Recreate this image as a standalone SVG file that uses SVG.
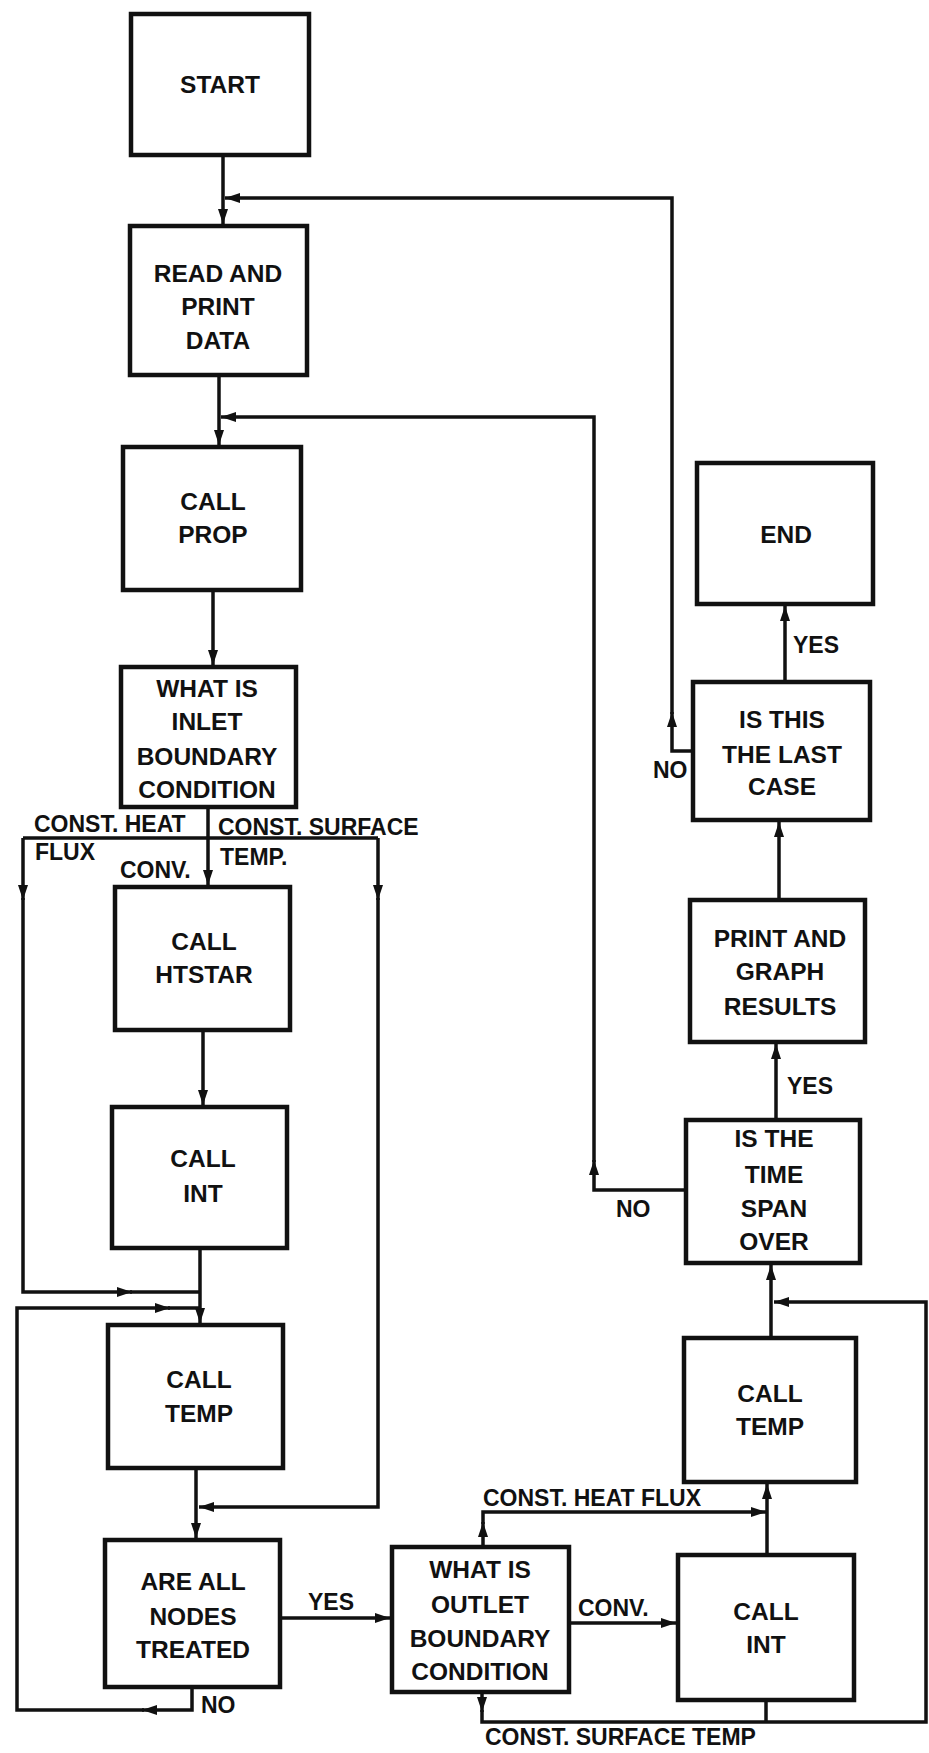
<svg xmlns="http://www.w3.org/2000/svg" width="929" height="1753" viewBox="0 0 929 1753">
<style>
.box{fill:#fff;stroke:#111;stroke-width:4.5}
.t{font-family:"Liberation Sans",Arial,sans-serif;font-weight:bold;font-size:24.5px;text-anchor:middle;fill:#111}
.l{font-family:"Liberation Sans",Arial,sans-serif;font-weight:bold;font-size:23px;fill:#111}
.c{fill:none;stroke:#111;stroke-width:3.5;stroke-linejoin:miter}
.a{marker-end:url(#ah)}
</style>
<defs>
<marker id="ah" markerUnits="userSpaceOnUse" markerWidth="16" markerHeight="12" refX="15" refY="5.5" orient="auto">
<path d="M0,0.5 L15,5.5 L0,10.5 z" fill="#111"/>
</marker>
</defs>
<rect width="929" height="1753" fill="#fff"/>
<g id="connectors">
<path class="c a" d="M223,155 V224"/>
<path class="c a" d="M693,751 H672 V712"/>
<path class="c a" d="M672,714 V198 H225"/>
<path class="c a" d="M219,375 V445"/>
<path class="c a" d="M686,1190 H594 V1160"/>
<path class="c a" d="M594,1162 V417 H221"/>
<path class="c a" d="M213,590 V665"/>
<path class="c a" d="M208,807 V885"/>
<path class="c" d="M23,838 H378"/>
<path class="c a" d="M23,838 V900"/>
<path class="c a" d="M23,898 V1292 H132"/>
<path class="c" d="M130,1292 H200"/>
<path class="c a" d="M378,838 V900"/>
<path class="c a" d="M378,898 V1507 H199"/>
<path class="c a" d="M203,1030 V1105"/>
<path class="c a" d="M200,1248 V1323"/>
<path class="c a" d="M196,1468 V1538"/>
<path class="c a" d="M192,1687 V1710 H142"/>
<path class="c a" d="M144,1710 H17 V1308 H170"/>
<path class="c" d="M168,1308 H200"/>
<path class="c a" d="M280,1618 H390"/>
<path class="c a" d="M569,1623 H676"/>
<path class="c a" d="M483,1547 V1522"/>
<path class="c a" d="M483,1524 V1512 H766"/>
<path class="c a" d="M767,1555 V1484"/>
<path class="c a" d="M771,1338 V1265"/>
<path class="c a" d="M482,1692 V1712"/>
<path class="c a" d="M482,1710 V1722 H926 V1302 H774"/>
<path class="c" d="M766,1700 V1722"/>
<path class="c a" d="M776,1120 V1044"/>
<path class="c a" d="M779,900 V822"/>
<path class="c a" d="M785,682 V606"/>
</g>
<g id="labels">
<text class="l" x="34" y="832">CONST. HEAT</text>
<text class="l" x="35" y="860">FLUX</text>
<text class="l" x="218" y="835">CONST. SURFACE</text>
<text class="l" x="220" y="865">TEMP.</text>
<text class="l" x="120" y="878">CONV.</text>
<text class="l" x="793" y="653">YES</text>
<text class="l" x="653" y="778">NO</text>
<text class="l" x="787" y="1094">YES</text>
<text class="l" x="616" y="1217">NO</text>
<text class="l" x="308" y="1610">YES</text>
<text class="l" x="201" y="1713">NO</text>
<text class="l" x="578" y="1616">CONV.</text>
<text class="l" x="483" y="1506">CONST. HEAT FLUX</text>
<text class="l" x="485" y="1745">CONST. SURFACE TEMP</text>
</g>
<g id="start"><rect class="box" x="131" y="14" width="178" height="141"/><text class="t" x="220" y="93">START</text></g>
<g id="read"><rect class="box" x="130" y="226" width="177" height="149"/><text class="t" x="218" y="282">READ AND</text><text class="t" x="218" y="315">PRINT</text><text class="t" x="218" y="349">DATA</text></g>
<g id="prop"><rect class="box" x="123" y="447" width="178" height="143"/><text class="t" x="213" y="510">CALL</text><text class="t" x="213" y="543">PROP</text></g>
<g id="inlet"><rect class="box" x="121" y="667" width="175" height="140"/><text class="t" x="207" y="697">WHAT IS</text><text class="t" x="207" y="730">INLET</text><text class="t" x="207" y="765">BOUNDARY</text><text class="t" x="207" y="798">CONDITION</text></g>
<g id="htstar"><rect class="box" x="115" y="887" width="175" height="143"/><text class="t" x="204" y="950">CALL</text><text class="t" x="204" y="983">HTSTAR</text></g>
<g id="int1"><rect class="box" x="112" y="1107" width="175" height="141"/><text class="t" x="203" y="1167">CALL</text><text class="t" x="203" y="1202">INT</text></g>
<g id="temp1"><rect class="box" x="108" y="1325" width="175" height="143"/><text class="t" x="199" y="1388">CALL</text><text class="t" x="199" y="1422">TEMP</text></g>
<g id="nodes"><rect class="box" x="105" y="1540" width="175" height="147"/><text class="t" x="193" y="1590">ARE ALL</text><text class="t" x="193" y="1625">NODES</text><text class="t" x="193" y="1658">TREATED</text></g>
<g id="outlet"><rect class="box" x="392" y="1547" width="177" height="145"/><text class="t" x="480" y="1578">WHAT IS</text><text class="t" x="480" y="1613">OUTLET</text><text class="t" x="480" y="1647">BOUNDARY</text><text class="t" x="480" y="1680">CONDITION</text></g>
<g id="int2"><rect class="box" x="678" y="1555" width="176" height="145"/><text class="t" x="766" y="1620">CALL</text><text class="t" x="766" y="1653">INT</text></g>
<g id="temp2"><rect class="box" x="684" y="1338" width="172" height="144"/><text class="t" x="770" y="1402">CALL</text><text class="t" x="770" y="1435">TEMP</text></g>
<g id="span"><rect class="box" x="686" y="1120" width="174" height="143"/><text class="t" x="774" y="1147">IS THE</text><text class="t" x="774" y="1183">TIME</text><text class="t" x="774" y="1217">SPAN</text><text class="t" x="774" y="1250">OVER</text></g>
<g id="print"><rect class="box" x="690" y="900" width="175" height="142"/><text class="t" x="780" y="947">PRINT AND</text><text class="t" x="780" y="980">GRAPH</text><text class="t" x="780" y="1015">RESULTS</text></g>
<g id="last"><rect class="box" x="693" y="682" width="177" height="138"/><text class="t" x="782" y="728">IS THIS</text><text class="t" x="782" y="763">THE LAST</text><text class="t" x="782" y="795">CASE</text></g>
<g id="end"><rect class="box" x="697" y="463" width="176" height="141"/><text class="t" x="786" y="543">END</text></g>
</svg>
